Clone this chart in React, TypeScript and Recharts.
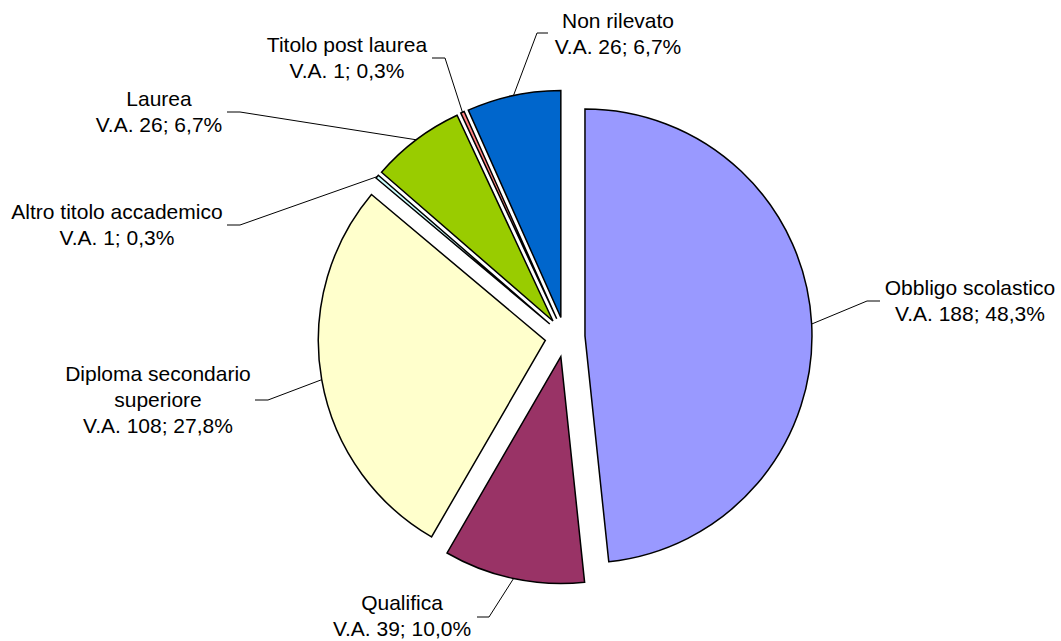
import React from "react";
import { PieChart, Pie, Cell, Sector } from "recharts";

// titolo di studio
const categories = [
  "Obbligo scolastico",
  "Qualifica",
  "Diploma secondario\nsuperiore",
  "Altro titolo accademico",
  "Laurea",
  "Titolo post laurea",
  "Non rilevato",
];
const values = [188, 39, 108, 1, 26, 1, 26];
const colors = ["#9999FF", "#993366", "#FFFFCC", "#CCFFFF", "#99CC00", "#FF8080", "#0066CC"];

const data = categories.map((name, i) => ({ name, value: values[i] }));

// where the labels were dragged to (elbow of the leader line, text centre, first baseline)
const labelPos = [
  { ex: 867, ey: 301, hx: 880, tx: 970, ty: 295 },
  { ex: 489, ey: 617, hx: 477, tx: 402, ty: 610 },
  { ex: 268, ey: 400, hx: 255, tx: 158, ty: 381 },
  { ex: 240, ey: 225, hx: 227, tx: 117, ty: 219 },
  { ex: 240, ey: 112, hx: 227, tx: 159, ty: 106 },
  { ex: 445, ey: 58, hx: 432, tx: 347, ty: 52 },
  { ex: 537, ey: 33, hx: 548, tx: 618, ty: 28 },
];

const RAD = Math.PI / 180;
const EXPLODE = 20;
const LINE_H = 26;

const shift = (mid: number) => ({
  dx: EXPLODE * Math.cos(-mid * RAD),
  dy: EXPLODE * Math.sin(-mid * RAD),
});

const ExplodedSector = (props: any) => {
  const { dx, dy } = shift(props.midAngle);
  return <Sector {...props} cx={props.cx + dx} cy={props.cy + dy} />;
};

const renderLabel = (props: any) => {
  const { cx, cy, midAngle, outerRadius, index, value, percent } = props;
  const { dx, dy } = shift(midAngle);
  const sx = cx + dx + outerRadius * Math.cos(-midAngle * RAD);
  const sy = cy + dy + outerRadius * Math.sin(-midAngle * RAD);
  const p = labelPos[index];
  const pct = (percent * 100).toFixed(1).replace(".", ",");
  const lines = [...categories[index].split("\n"), `V.A. ${value}; ${pct}%`];
  return (
    <g key={`lbl-${index}`}>
      <polyline
        points={`${sx},${sy} ${p.ex},${p.ey} ${p.hx},${p.ey}`}
        fill="none"
        stroke="#000"
        strokeWidth={1}
      />
      <text
        x={p.tx}
        y={p.ty}
        textAnchor="middle"
        fill="#000"
        fontSize={21}
        fontFamily="'Liberation Sans', Arial, sans-serif"
      >
        {lines.map((l, j) => (
          <tspan key={j} x={p.tx} dy={j === 0 ? 0 : LINE_H}>
            {l}
          </tspan>
        ))}
      </text>
    </g>
  );
};

export default function App() {
  return (
    <div style={{ position: "absolute", left: 0, top: 0, background: "#fff" }}>
      <PieChart width={1061} height={641} margin={{ top: 0, right: 0, bottom: 0, left: 0 }}>
        <Pie
          data={data}
          dataKey="value"
          nameKey="name"
          cx={565}
          cy={337}
          outerRadius={227}
          startAngle={90}
          endAngle={-270}
          stroke="#000"
          strokeWidth={1.5}
          shape={ExplodedSector}
          activeShape={ExplodedSector}
          inactiveShape={ExplodedSector}
          label={renderLabel}
          labelLine={false}
          isAnimationActive={false}
        >
          {data.map((_, i) => (
            <Cell key={i} fill={colors[i]} />
          ))}
        </Pie>
      </PieChart>
    </div>
  );
}
